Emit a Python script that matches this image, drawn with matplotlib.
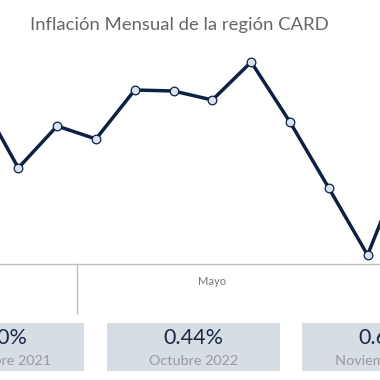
import matplotlib.pyplot as plt
from matplotlib.patches import Rectangle
import matplotlib.transforms as mtransforms

# Inflación mensual (%)
meses = ["Dic", "Ene", "Feb", "Mar", "Abr", "May", "Jun",
         "Jul", "Ago", "Sep", "Oct", "Nov"]
inflacion = [1.01, 0.66, 0.87, 0.805, 1.05, 1.045, 1.00,
             1.19, 0.89, 0.56, 0.225, 0.71]

# Tarjetas inferiores
card_values = ["0.50%", "0.44%", "0.62%"]
card_labels = ["Noviembre 2021", "Octubre 2022", "Noviembre 2022"]

W, H = 380, 380
fig = plt.figure(figsize=(W / 100, H / 100), dpi=100)
fig.patch.set_facecolor("white")

ax = fig.add_axes([0, (H - 264) / H, 1, 224 / H])
x = list(range(len(meses)))
ax.plot(x, inflacion, color="#0c2143", lw=2.5, marker="o", ms=6.2,
        mfc="#dbe3f0", mec="#0c2143", mew=0.9)
ax.set_xlim(0.528, 10.32)
ax.set_ylim(0.18, 1.30)

for s in ["top", "left", "right"]:
    ax.spines[s].set_visible(False)
ax.spines["bottom"].set_color("#bdbdbd")
ax.spines["bottom"].set_linewidth(1.0)
ax.set_xticks([])
ax.set_yticks([])

# separador de año y etiqueta de mes
trans = mtransforms.blended_transform_factory(ax.transData, ax.transAxes)
ax.plot([2.5, 2.5], [0, -0.22], color="#bdbdbd", lw=1.0,
        transform=trans, clip_on=False)
ax.text(6, -0.076, "Mayo", transform=trans, ha="center", va="center",
        fontsize=8, color="#777777", family="Lato")

fig.text(179 / W, 1 - 25 / H, "Inflación Mensual de la región CARD",
         ha="center", va="center", fontsize=13.3, color="#666666",
         family="Lato")

# tarjetas (recortadas en los bordes, como en el original)
card_x = [-89, 107, 302]
card_w = 173
for cx, val, lab in zip(card_x, card_values, card_labels):
    fig.patches.append(Rectangle((cx / W, (H - 371) / H), card_w / W, 48 / H,
                                 transform=fig.transFigure,
                                 facecolor="#d7dde5", edgecolor="none"))
    xc = (cx + card_w / 2) / W
    fig.text(xc, 1 - 338 / H, val, ha="center", va="center",
             fontsize=15.5, color="#1a2a45", family="Lato")
    fig.text(xc, 1 - 361 / H, lab, ha="center", va="center",
             fontsize=10.4, color="#9a9a9a", family="Lato")

plt.savefig("out.png", dpi=100)
